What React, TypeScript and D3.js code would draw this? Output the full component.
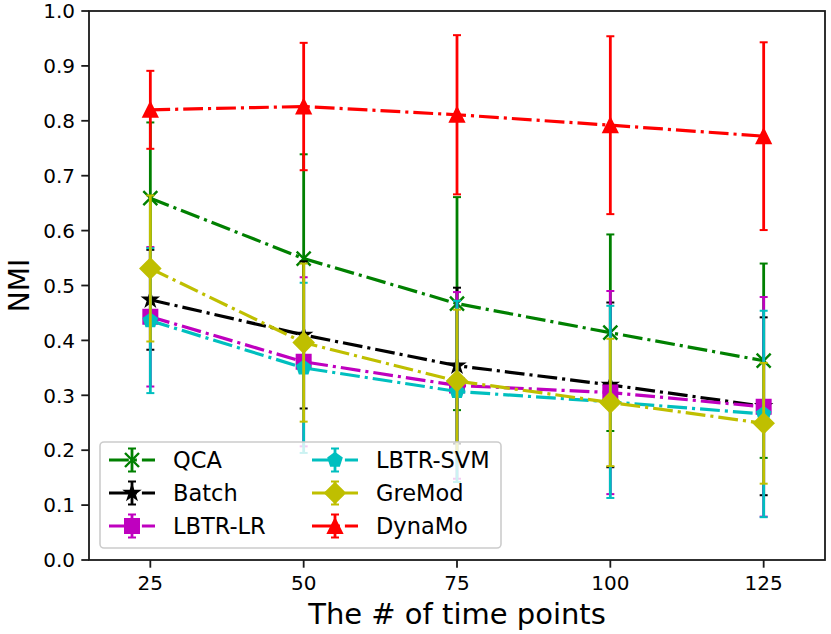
import React, { useEffect } from 'react';
import * as d3 from 'd3';

// x positions (number of time points)
const timePoints = [25, 50, 75, 100, 125];
const yTicks = [0, 0.1, 0.2, 0.3, 0.4, 0.5, 0.6, 0.7, 0.8, 0.9, 1.0];

// NMI means and std errors
const qcaMean = [0.659, 0.549, 0.467, 0.414, 0.363];
const qcaErr = [0.138, 0.19, 0.194, 0.179, 0.177];
const batchMean = [0.474, 0.41, 0.354, 0.319, 0.28];
const batchErr = [0.091, 0.134, 0.142, 0.15, 0.162];
const lrMean = [0.443, 0.361, 0.318, 0.305, 0.279];
const lrErr = [0.127, 0.154, 0.17, 0.185, 0.2];
const svmMean = [0.436, 0.35, 0.307, 0.288, 0.266];
const svmErr = [0.132, 0.155, 0.165, 0.175, 0.188];
const greModMean = [0.531, 0.396, 0.326, 0.287, 0.249];
const greModErr = [0.133, 0.144, 0.13, 0.116, 0.11];
const dynaMoMean = [0.82, 0.826, 0.811, 0.792, 0.772];
const dynaMoErr = [0.071, 0.116, 0.145, 0.162, 0.171];

type Marker = 'x' | 'star' | 'square' | 'pentagon' | 'diamond' | 'triangle';

interface Series {
  name: string;
  color: string;
  marker: Marker;
  mean: number[];
  err: number[];
}

const series: Series[] = [
  { name: 'QCA', color: '#008000', marker: 'x', mean: qcaMean, err: qcaErr },
  { name: 'Batch', color: '#000000', marker: 'star', mean: batchMean, err: batchErr },
  { name: 'LBTR-LR', color: '#bf00bf', marker: 'square', mean: lrMean, err: lrErr },
  { name: 'LBTR-SVM', color: '#00bfbf', marker: 'pentagon', mean: svmMean, err: svmErr },
  { name: 'GreMod', color: '#bfbf00', marker: 'diamond', mean: greModMean, err: greModErr },
  { name: 'DynaMo', color: '#ff0000', marker: 'triangle', mean: dynaMoMean, err: dynaMoErr },
];

const W = 831;
const H = 634;
const margin = { left: 89, right: 6, top: 11, bottom: 74 };
const FONT = 'DejaVu Sans, sans-serif';
const MS = 14; // marker size in px
const LW = 3.2;
const DASH = '19.8 5 3.1 5';

const polygon = (n: number, r: number, inner?: number) => {
  const pts: [number, number][] = [];
  const k = inner ? n * 2 : n;
  for (let i = 0; i < k; i++) {
    const a = -Math.PI / 2 + (i * 2 * Math.PI) / k;
    const rr = inner && i % 2 === 1 ? r * inner : r;
    pts.push([rr * Math.cos(a), rr * Math.sin(a)]);
  }
  return 'M' + pts.map(p => p.join(',')).join('L') + 'Z';
};

const markerPath = (m: Marker): string => {
  const h = MS / 2;
  switch (m) {
    case 'triangle':
      return `M0,${-h}L${-h},${h}L${h},${h}Z`;
    case 'square':
      return `M${-h},${-h}L${h},${-h}L${h},${h}L${-h},${h}Z`;
    case 'diamond': {
      const d = h * Math.SQRT2;
      return `M0,${-d}L${d},0L0,${d}L${-d},0Z`;
    }
    case 'pentagon':
      return polygon(5, h);
    case 'star':
      return polygon(5, h, 0.381966);
    case 'x':
      return `M${-h},${-h}L${h},${h}M${-h},${h}L${h},${-h}`;
  }
};

const MarkerGlyph: React.FC<{ m: Marker; color: string; x: number; y: number }> = ({ m, color, x, y }) => (
  <path
    d={markerPath(m)}
    transform={`translate(${x},${y})`}
    fill={m === 'x' ? 'none' : color}
    stroke={color}
    strokeWidth={m === 'x' ? 2.4 : 2}
    strokeLinejoin="miter"
  />
);

const App: React.FC = () => {
  useEffect(() => {
    document.body.style.margin = '0';
  }, []);

  const x = d3.scaleLinear().domain([15, 135]).range([margin.left, W - margin.right]);
  const y = d3.scaleLinear().domain([0, 1]).range([H - margin.bottom, margin.top]);
  const line = d3
    .line<number>()
    .x((_, i) => x(timePoints[i]))
    .y(d => y(d));

  const x0 = x.range()[0];
  const x1 = x.range()[1];
  const y0 = y.range()[0];
  const y1 = y.range()[1];

  // legend layout
  const legX = 100;
  const legY = 442;
  const legW = 401;
  const legH = 106;
  const rowH = 33;
  const colW = 203;

  return (
    <svg width={W} height={H} style={{ display: 'block', background: '#fff' }} fontFamily={FONT}>
      {/* series */}
      {series.map(s => (
        <g key={s.name}>
          {s.mean.map((v, i) => {
            const cx = x(timePoints[i]);
            const top = y(v + s.err[i]);
            const bot = y(v - s.err[i]);
            return (
              <g key={i} stroke={s.color}>
                <line x1={cx} x2={cx} y1={top} y2={bot} strokeWidth={2.8} />
                <line x1={cx - 4} x2={cx + 4} y1={top} y2={top} strokeWidth={2} />
                <line x1={cx - 4} x2={cx + 4} y1={bot} y2={bot} strokeWidth={2} />
              </g>
            );
          })}
          <path
            d={line(s.mean) || ''}
            fill="none"
            stroke={s.color}
            strokeWidth={LW}
            strokeDasharray={DASH}
          />
          {s.mean.map((v, i) => (
            <MarkerGlyph key={i} m={s.marker} color={s.color} x={x(timePoints[i])} y={y(v)} />
          ))}
        </g>
      ))}

      {/* legend */}
      <g>
        <rect
          x={legX}
          y={legY}
          width={legW}
          height={legH}
          rx={4}
          fill="#fff"
          fillOpacity={0.8}
          stroke="#cccccc"
          strokeWidth={1.6}
        />
        {series.map((s, i) => {
          const col = Math.floor(i / 3);
          const row = i % 3;
          const hx = legX + 9 + col * colW;
          const cy = legY + 18 + row * rowH;
          const mx = hx + 23;
          return (
            <g key={s.name}>
              <line x1={mx} x2={mx} y1={cy - 11.5} y2={cy + 11.5} stroke={s.color} strokeWidth={2.8} />
              <line x1={mx - 4} x2={mx + 4} y1={cy - 11.5} y2={cy - 11.5} stroke={s.color} strokeWidth={2} />
              <line x1={mx - 4} x2={mx + 4} y1={cy + 11.5} y2={cy + 11.5} stroke={s.color} strokeWidth={2} />
              <line
                x1={hx}
                x2={hx + 46}
                y1={cy}
                y2={cy}
                stroke={s.color}
                strokeWidth={LW}
                strokeDasharray={DASH}
              />
              <MarkerGlyph m={s.marker} color={s.color} x={mx} y={cy} />
              <text x={hx + 64} y={cy} dy="0.36em" fontSize={22.5} fill="#000">
                {s.name}
              </text>
            </g>
          );
        })}
      </g>

      {/* frame */}
      <rect x={x0} y={y1} width={x1 - x0} height={y0 - y1} fill="none" stroke="#1a1a1a" strokeWidth={1.8} />

      {/* y axis */}
      {yTicks.map(t => (
        <g key={t}>
          <line x1={x0 - 7.7} x2={x0} y1={y(t)} y2={y(t)} stroke="#1a1a1a" strokeWidth={1.8} />
          <text x={x0 - 14} y={y(t)} dy="0.36em" textAnchor="end" fontSize={20} fill="#000">
            {d3.format('.1f')(t)}
          </text>
        </g>
      ))}

      {/* x axis */}
      {timePoints.map(t => (
        <g key={t}>
          <line x1={x(t)} x2={x(t)} y1={y0} y2={y0 + 7.7} stroke="#1a1a1a" strokeWidth={1.8} />
          <text x={x(t)} y={590} textAnchor="middle" fontSize={20} fill="#000">
            {t}
          </text>
        </g>
      ))}

      <text x={(x0 + x1) / 2} y={624} textAnchor="middle" fontSize={29} fill="#000">
        The # of time points
      </text>
      <text
        transform={`translate(29,${(y0 + y1) / 2}) rotate(-90)`}
        textAnchor="middle"
        fontSize={28}
        fill="#000"
      >
        NMI
      </text>
    </svg>
  );
};

export default App;
